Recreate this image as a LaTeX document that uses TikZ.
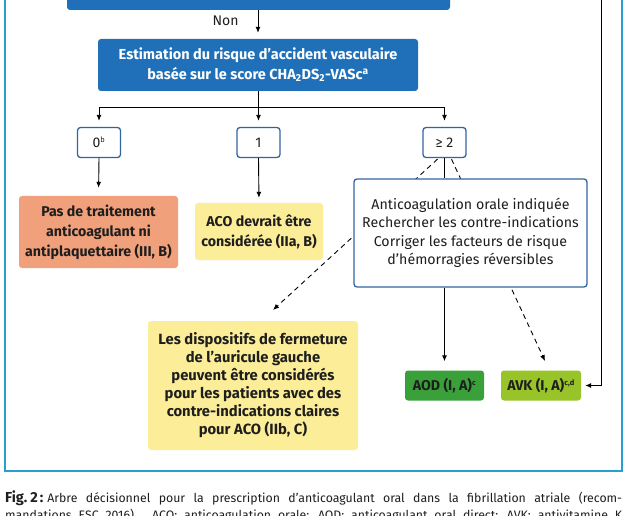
\documentclass[tikz,border=0pt]{standalone}
\usepackage{fontspec}
\setmainfont{Fira Sans}
\usetikzlibrary{arrows.meta,calc,backgrounds}
\definecolor{cblue}{RGB}{31,112,184}
\definecolor{cframe}{RGB}{40,160,210}
\definecolor{cborder}{RGB}{50,100,160}
\definecolor{csalmon}{RGB}{240,160,122}
\definecolor{cyellow}{RGB}{252,238,152}
\definecolor{cgreen}{RGB}{58,160,58}
\definecolor{clime}{RGB}{152,196,42}
\definecolor{ctext}{RGB}{30,30,30}
\tikzset{
  box/.style={rounded corners=3pt, inner sep=0pt, align=center},
  bluebox/.style={box, fill=cblue, text=white, font=\bfseries\fontsize{14.5}{20}\selectfont},
  scorebox/.style={box, draw=cborder, line width=1.3pt, fill=white, text=ctext,
     font=\fontsize{14}{16}\selectfont, minimum width=43pt, minimum height=30pt},
  infobox/.style={box, draw=cborder, line width=1.3pt, fill=white, text=ctext,
     font=\fontsize{14.2}{18.5}\selectfont},
  recbox/.style={box, text=ctext, font=\bfseries\fontsize{14.2}{20}\selectfont},
  arr/.style={-{Latex[length=6pt,width=5pt]}, line width=0.9pt},
  dasharr/.style={arr, dash pattern=on 5pt off 4pt},
}
\begin{document}
\begin{tikzpicture}[x=1pt,y=-1pt]
\useasboundingbox (0,0) rectangle (627,516);
% frame
\draw[cframe, line width=2.5pt] (5,-10) rectangle (622,471);
% top (cropped) box
\node[bluebox, minimum width=383pt, minimum height=40pt] (top) at (258.5,-10) {};
\node[font=\fontsize{14}{16}\selectfont, text=ctext, inner sep=0pt] (non) at (225.5,21) {Non};
\node[bluebox, minimum width=320pt, minimum height=52pt] (est) at (258,65)
  {Estimation du risque d’accident vasculaire\\basée sur le score CHA\textsubscript{2}DS\textsubscript{2}-VASc\textsuperscript{a}};
% scores
\node[scorebox] (b0) at (99,142.5) {0\textsuperscript{\fontsize{7.5}{8}\selectfont b}};
\node[scorebox] (b1) at (258.5,142.5) {1};
\node[scorebox] (bge) at (444.5,142.5) {≥ 2};
% recommendations
\node[recbox, fill=csalmon, minimum width=159pt, minimum height=72pt] (r0) at (98.5,232)
  {Pas de traitement\\anticoagulant ni\\antiplaquettaire (III, B)};
\node[recbox, fill=cyellow, minimum width=128pt, minimum height=57pt] (r1) at (259,231.5)
  {ACO devrait être\\considérée (IIa, B)};
\node[infobox, minimum width=233pt, minimum height=108pt] (info) at (470.5,233)
  {Anticoagulation orale indiquée\\Rechercher les contre-indications\\Corriger les facteurs de risque\\d’hémorragies réversibles};
\node[recbox, fill=cyellow, minimum width=210pt, minimum height=129pt, font=\bfseries\fontsize{14.8}{18}\selectfont] (lao) at (253,385.5)
  {Les dispositifs de fermeture\\de l’auricule gauche\\peuvent être considérés\\pour les patients avec des\\contre-indications claires\\pour ACO (IIb, C)};
\node[recbox, fill=cgreen, minimum width=79pt, minimum height=30pt] (aod) at (444.5,385.5)
  {AOD (I, A)\textsuperscript{\fontsize{7.5}{8}\selectfont c}};
\node[recbox, fill=clime, minimum width=80pt, minimum height=30pt] (avk) at (541,385.5)
  {AVK (I, A)\textsuperscript{\fontsize{7.5}{8}\selectfont c,d}};
% connectors
\draw[arr, shorten >=6pt] (top.south -| est.north) -- (est.north);
\coordinate (br) at (258.5,107);
\draw[line width=0.9pt] (est.south -| br) -- (br);
\draw[arr, shorten >=6pt] (br) -| (b0.north);
\draw[arr, shorten >=6pt] (br) -| (bge.north);
\draw[arr, shorten >=6pt] (br) -- (b1.north);
\draw[arr, shorten >=8pt] (b0.south) -- (r0.north);
\draw[arr, shorten >=5pt] (b1.south) -- (r1.north);
\draw[line width=0.9pt] (bge.south) -- (bge.south |- info.north);
\draw[arr, shorten >=9pt] (info.south -| aod.north) -- (aod.north);
\coordinate (rtop) at (601,-10);
\draw[arr, shorten >=4pt] (rtop) |- (avk.east);
\coordinate (dl) at (273,310);
\coordinate (dr) at (545,361);
\begin{scope}[on background layer]
  \fill[white] (0,0) rectangle (627,516);
  \draw[dasharr] ($(bge.south)+(-7,1)$) -- (dl);
  \draw[dasharr] ($(bge.south)+(7,1)$) -- (dr);
\end{scope}
% caption
\node[anchor=base west, inner sep=0pt, text=ctext] (cap1) at (5,502)
  {\makebox[617pt][s]{\fontsize{14.5}{15}\selectfont\bfseries Fig.\kern3pt2\kern2pt:\kern4pt\fontsize{12.3}{15}\selectfont\mdseries Arbre décisionnel pour la prescription d’anticoagulant oral dans la fibrillation atriale (recom-}};
\node[anchor=base west, inner sep=0pt, text=ctext] (cap2) at (5,519)
  {\makebox[617pt][s]{\fontsize{12.3}{15}\selectfont mandations ESC 2016). ACO: anticoagulation orale; AOD: anticoagulant oral direct; AVK: antivitamine K}};
\end{tikzpicture}
\end{document}
